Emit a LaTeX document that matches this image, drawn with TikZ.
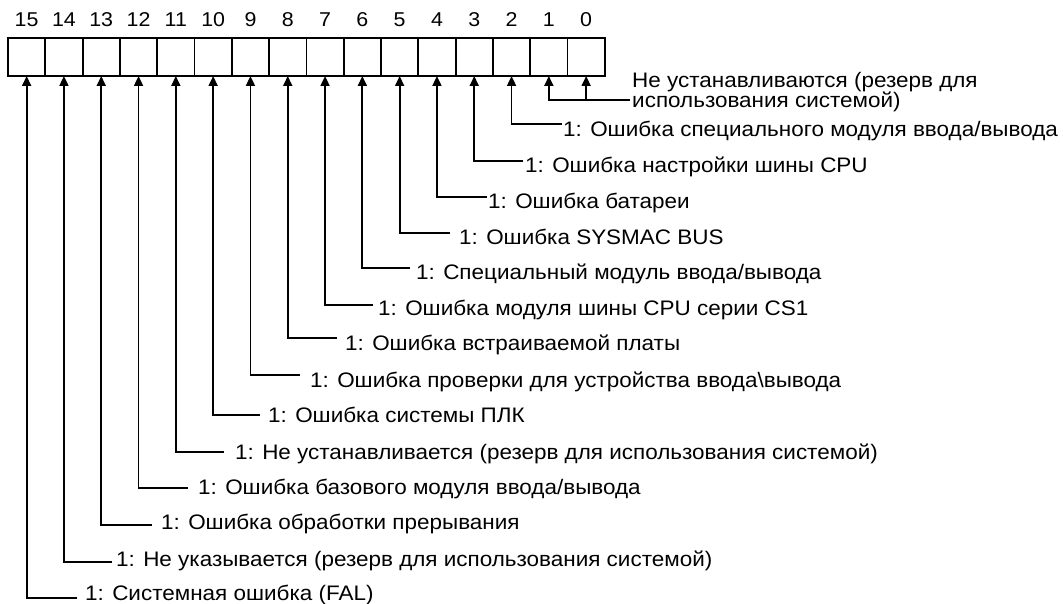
\documentclass[tikz,border=0pt]{standalone}
\usepackage{fontspec}
\setmainfont[FakeStretch=1.07]{Liberation Sans}
\usetikzlibrary{arrows.meta}
\newcommand\bitlabel[6]{%
  \node[lab,inner xsep=#4pt] (t#1) at (#2,#3) {#6};
  \draw[conn] ([yshift=#5pt]t#1.west) -| (c#1.south);
}
\begin{document}
\begin{tikzpicture}[x=1pt,y=-1pt,
  cell/.style={draw,line width=1.8pt,minimum width=37.3pt,minimum height=38pt,inner sep=0pt,outer sep=0pt,anchor=north west},
  bitnum/.style={font=\fontsize{20}{20}\selectfont,inner sep=0pt},
  lab/.style={font=\fontsize{21}{21}\selectfont,anchor=west,inner ysep=0pt,text height=15pt,text depth=0pt},
  conn/.style={line width=1.8pt,-{Triangle[length=10pt,width=9pt]}}]
\useasboundingbox (0,0) rectangle (1063,604);
\foreach \i in {0,...,15}{
  \pgfmathsetmacro\xx{8+(15-\i)*37.3}
  \node[cell] (c\i) at (\xx,38) {};
  \node[bitnum] (n\i) at (\xx+18.65,20) {\i};
}
\bitlabel{2}{562}{129}{1}{5}{1: Ошибка специального модуля ввода/вывода}
\bitlabel{3}{523}{165}{2}{4}{1: Ошибка настройки шины CPU}
\bitlabel{4}{487}{201}{1}{4}{1: Ошибка батареи}
\bitlabel{5}{450}{237}{9}{4}{1: Ошибка SYSMAC BUS}
\bitlabel{6}{410}{272}{6}{4}{1: Специальный модуль ввода/вывода}
\bitlabel{7}{373}{308}{5}{3}{1: Ошибка модуля шины CPU серии CS1}
\bitlabel{8}{337}{343}{8}{5}{1: Ошибка встраиваемой платы}
\bitlabel{9}{300}{380}{10}{5}{1: Ошибка проверки для устройства ввода\textbackslash вывода}
\bitlabel{10}{260}{415}{8}{0}{1: Ошибка системы ПЛК}
\bitlabel{11}{224}{452}{11}{0}{1: Не устанавливается (резерв для использования системой)}
\bitlabel{12}{188}{487}{10}{-1}{1: Ошибка базового модуля ввода/вывода}
\bitlabel{13}{152}{522}{9}{-3}{1: Ошибка обработки прерывания}
\bitlabel{14}{112}{559}{4}{-3}{1: Не указывается (резерв для использования системой)}
\bitlabel{15}{77}{593}{8}{-5}{1: Системная ошибка (FAL)}
\node[lab,inner xsep=2pt] (t01a) at (630,80) {Не устанавливаются (резерв для};
\node[lab,inner xsep=2pt] (t01b) at (630,100) {использования системой)};
\coordinate (j) at ([yshift=0pt]t01b.west);
\draw[conn] (j) -| (c1.south);
\draw[conn] (c0.south |- j) -- (c0.south);
\end{tikzpicture}
\end{document}
